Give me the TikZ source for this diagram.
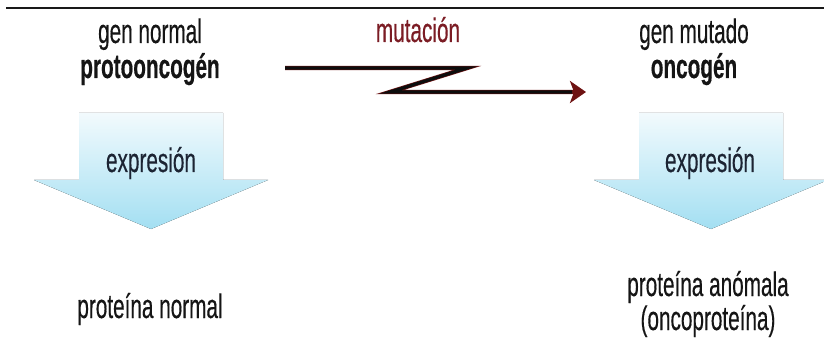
\documentclass[tikz,border=0pt]{standalone}
\usepackage{fontspec}
\setmainfont{Liberation Sans}
\newfontfamily\nar[FakeStretch=0.61,FakeBold=0.35]{Liberation Sans}
\newfontfamily\narb[FakeStretch=0.61,FakeBold=0.4]{Liberation Sans Bold}
\usetikzlibrary{arrows.meta}
\definecolor{txt}{HTML}{151515}
\definecolor{expr}{HTML}{1C2433}
\definecolor{mut}{HTML}{7B1C24}
\definecolor{zred}{HTML}{6E1212}
\definecolor{ztop}{HTML}{F2FAFD}
\definecolor{zbot}{HTML}{A3DFF2}
\tikzset{
  lbl/.style={anchor=base, inner sep=0pt, text=txt, font=\nar\fontsize{34}{38}\selectfont},
  lblb/.style={lbl, font=\narb\fontsize{34}{38}\selectfont},
  exprlbl/.style={lbl, text=expr},
  mutlbl/.style={lbl, text=mut},
  blockarrow/.style={top color=ztop, bottom color=zbot, draw=none},
  zline/.style={line width=4.4pt, line join=miter, draw=zred},
  zcore/.style={line width=3.2pt, line join=miter, draw=black!95},
}
\begin{document}
\begin{tikzpicture}[x=1pt,y=-1pt]
\useasboundingbox (0,0) rectangle (824,339);
% top rule
\coordinate (r1) at (6,8);
\coordinate (r2) at (824,8);
\draw[line width=2pt, black!90] (r1) -- (r2);
% block arrows
\foreach \cx/\nm in {151/L,711/R}{
  \fill[blockarrow] (\cx-72,113) -- (\cx+72,113) -- (\cx+72,180) -- (\cx+117,180)
     -- (\cx,229) -- (\cx-117,180) -- (\cx-72,180) -- cycle;
}
% labels
\node[lbl]  (gn)  at (150,43) {gen normal};
\node[lblb] (po)  at (150,78) {protooncogén};
\node[mutlbl] (mu) at (418,42) {mutación};
\node[lbl]  (gm)  at (694,43) {gen mutado};
\node[lblb] (oc)  at (694,78) {oncogén};
\node[exprlbl] (e1) at (151,172) {expresión};
\node[exprlbl] (e2) at (710,172) {expresión};
\node[lbl]  (pn)  at (150,318) {proteína normal};
\node[lbl]  (pa)  at (708,296) {proteína anómala};
\node[lbl]  (op)  at (708,330) {(oncoproteína)};
% Z arrow
\coordinate (z0) at (285,68);
\coordinate (z1) at (467,68);
\coordinate (z2) at (390,92);
\coordinate (z3) at (586,92);
\coordinate (z3b) at (572,92);
\draw[zline, -{Stealth[length=16pt,width=22pt,inset=4pt]}] (z0) -- (z1) -- (z2) -- (z3);
\draw[zcore] (z0) -- (z1) -- (z2) -- (z3b);
\end{tikzpicture}
\end{document}
